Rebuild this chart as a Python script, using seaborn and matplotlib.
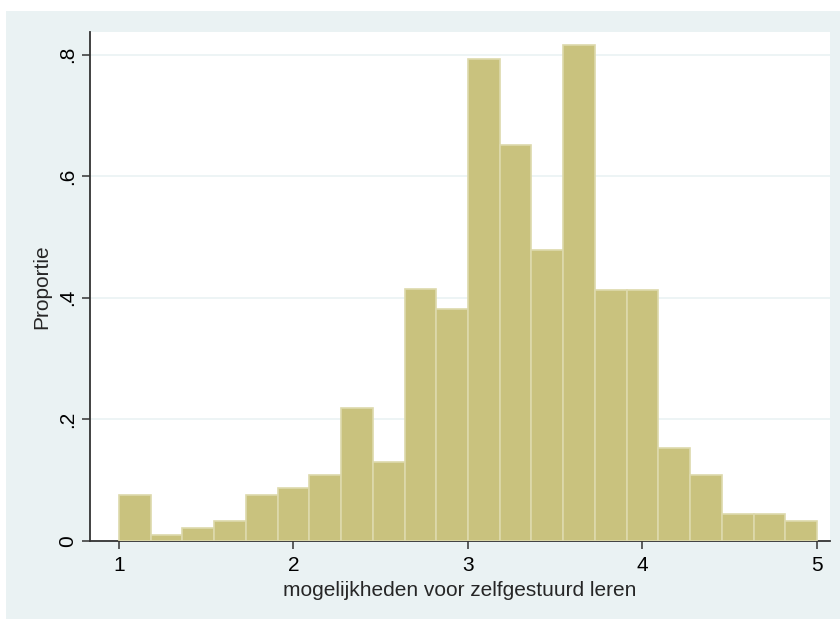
import numpy as np
import pandas as pd
import matplotlib.pyplot as plt
import seaborn as sns
from matplotlib.patches import Rectangle

# histogram bins (22 bins from 1 to 5) and bar heights
bin_edges = list(np.linspace(1, 5, 23))
heights = [0.076, 0.0106, 0.021, 0.0326, 0.076, 0.0866, 0.109, 0.218, 0.130,
           0.414, 0.381, 0.793, 0.652, 0.478, 0.815, 0.413, 0.413, 0.153,
           0.109, 0.0436, 0.0436, 0.0326]
centers = [(a + b) / 2 for a, b in zip(bin_edges[:-1], bin_edges[1:])]
yticks = [0, 0.2, 0.4, 0.6, 0.8]
ylabels = ['0', '.2', '.4', '.6', '.8']
xticks = [1, 2, 3, 4, 5]

df = pd.DataFrame({'x': centers, 'h': heights})

sns.set_style('white')
plt.rcParams['font.family'] = ['Liberation Sans', 'DejaVu Sans']

bg = '#EAF2F3'
fig = plt.figure(figsize=(8.4, 6.19), dpi=100)
fig.patch.set_facecolor('white')
fig.patches.append(Rectangle((6/840, 0), 1 - 6/840, 1 - 11/619, transform=fig.transFigure,
                             facecolor=bg, edgecolor='none', zorder=-10))
ax = fig.add_axes([90/840, 78/619, 740/840, 509/619])

sns.histplot(data=df, x='x', weights='h', bins=bin_edges, stat='count', ax=ax,
             color='#C9C27E', alpha=1, edgecolor='#DDD9AC', linewidth=1.2, zorder=3)

ax.set_xlim(1 - 29/174.5, 5 + 13/174.5)
ax.set_ylim(0, 509/608)
ax.set_yticks(yticks)
ax.set_yticklabels(ylabels, rotation=90, va='center')
ax.set_xticks(xticks)
ax.yaxis.grid(True, color=bg, linewidth=1.2, zorder=0)
ax.set_axisbelow(True)
for s in ['top', 'right']:
    ax.spines[s].set_visible(False)
for s in ['left', 'bottom']:
    ax.spines[s].set_color('#333333')
    ax.spines[s].set_linewidth(1.3)
ax.tick_params(axis='both', length=6, width=1.1, color='#333333', labelsize=15,
               labelcolor='black', left=True, bottom=True, pad=3)
ax.tick_params(axis='x', pad=5)
ax.set_xlabel('mogelijkheden voor zelfgestuurd leren', fontsize=15, labelpad=4)
ax.set_ylabel('Proportie', fontsize=15, labelpad=5)

fig.savefig('out.png', dpi=100)
